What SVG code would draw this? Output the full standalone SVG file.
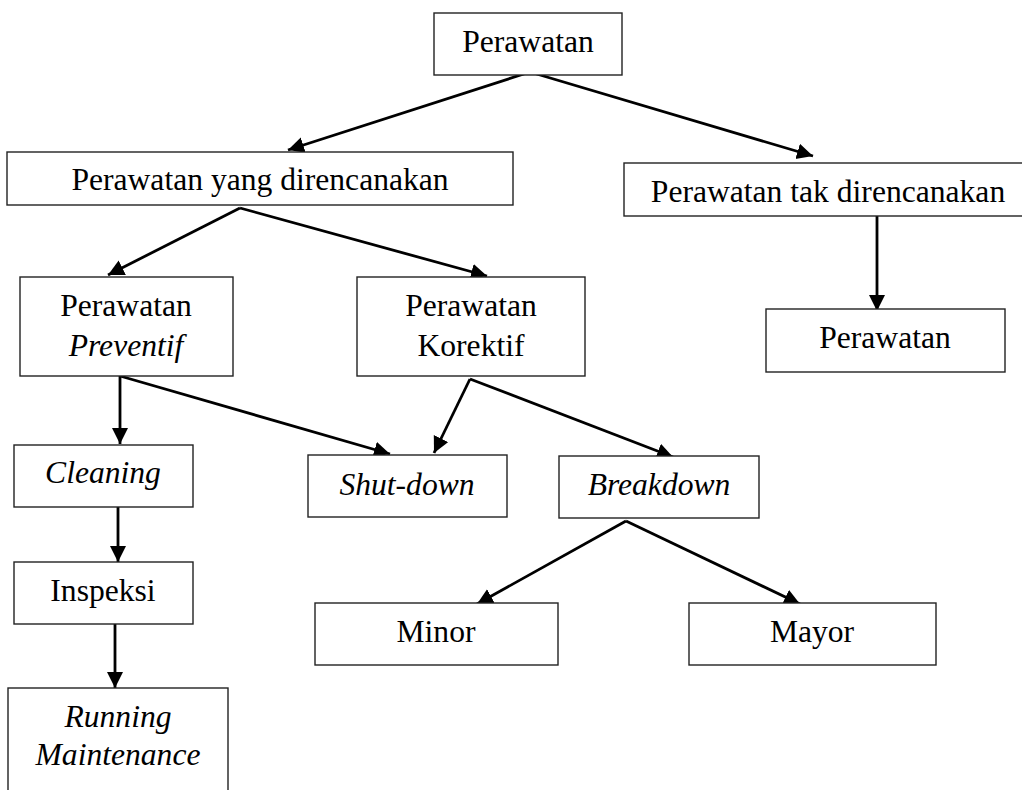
<svg xmlns="http://www.w3.org/2000/svg" width="1022" height="790" viewBox="0 0 1022 790">
<style>
.box{fill:#fff;stroke:#222;stroke-width:1.4}
.t{font-family:"Liberation Serif","Times New Roman",serif;font-size:31.6px;fill:#000;text-anchor:middle}
.i{font-style:italic}
.c{stroke:#000;stroke-width:2.8;fill:none;marker-end:url(#ah)}
</style>
<defs>
<marker id="ah" markerUnits="userSpaceOnUse" markerWidth="17" markerHeight="18" refX="16" refY="8" orient="auto">
<path d="M0,0 L16,8 L0,16 Z" fill="#000"/>
</marker>
</defs>
<rect width="1022" height="790" fill="#fff"/>
<g id="connectors">
<line class="c" x1="530" y1="72" x2="288" y2="150"/>
<line class="c" x1="530" y1="72" x2="813" y2="156"/>
<line class="c" x1="240" y1="208" x2="108" y2="275"/>
<line class="c" x1="240" y1="208" x2="487" y2="276"/>
<line class="c" x1="120" y1="376" x2="120" y2="444"/>
<line class="c" x1="120" y1="376" x2="390" y2="454"/>
<line class="c" x1="470" y1="379" x2="434" y2="453"/>
<line class="c" x1="470" y1="379" x2="673" y2="457"/>
<line class="c" x1="877" y1="216" x2="877" y2="311"/>
<line class="c" x1="118" y1="507" x2="118" y2="562"/>
<line class="c" x1="115" y1="624" x2="115" y2="688"/>
<line class="c" x1="626" y1="521" x2="477" y2="604"/>
<line class="c" x1="626" y1="521" x2="800" y2="604"/>
</g>
<g id="n-perawatan">
<rect class="box" x="434" y="13" width="188" height="62"/>
<text class="t" x="528" y="52">Perawatan</text>
</g>
<g id="n-direncanakan">
<rect class="box" x="7" y="152" width="506" height="53"/>
<text class="t" x="260" y="190">Perawatan yang direncanakan</text>
</g>
<g id="n-tak-direncanakan">
<rect class="box" x="624" y="163" width="410" height="53"/>
<text class="t" x="828" y="202">Perawatan tak direncanakan</text>
</g>
<g id="n-perawatan2">
<rect class="box" x="766" y="309" width="239" height="63"/>
<text class="t" x="885" y="348">Perawatan</text>
</g>
<g id="n-preventif">
<rect class="box" x="20" y="277" width="213" height="99"/>
<text class="t" x="126" y="316">Perawatan</text>
<text class="t i" x="126" y="356">Preventif</text>
</g>
<g id="n-korektif">
<rect class="box" x="357" y="277" width="228" height="99"/>
<text class="t" x="471" y="316">Perawatan</text>
<text class="t" x="471" y="356">Korektif</text>
</g>
<g id="n-cleaning">
<rect class="box" x="14" y="445" width="179" height="62"/>
<text class="t i" x="103" y="483">Cleaning</text>
</g>
<g id="n-shutdown">
<rect class="box" x="308" y="455" width="199" height="62"/>
<text class="t i" x="407" y="495">Shut-down</text>
</g>
<g id="n-breakdown">
<rect class="box" x="559" y="456" width="200" height="62"/>
<text class="t i" x="659" y="495">Breakdown</text>
</g>
<g id="n-inspeksi">
<rect class="box" x="14" y="562" width="179" height="62"/>
<text class="t" x="103" y="601">Inspeksi</text>
</g>
<g id="n-running">
<rect class="box" x="8" y="688" width="220" height="120"/>
<text class="t i" x="118" y="727">Running</text>
<text class="t i" x="118" y="765">Maintenance</text>
</g>
<g id="n-minor">
<rect class="box" x="315" y="603" width="243" height="62"/>
<text class="t" x="436" y="642">Minor</text>
</g>
<g id="n-mayor">
<rect class="box" x="689" y="603" width="247" height="62"/>
<text class="t" x="812" y="642">Mayor</text>
</g>
</svg>
